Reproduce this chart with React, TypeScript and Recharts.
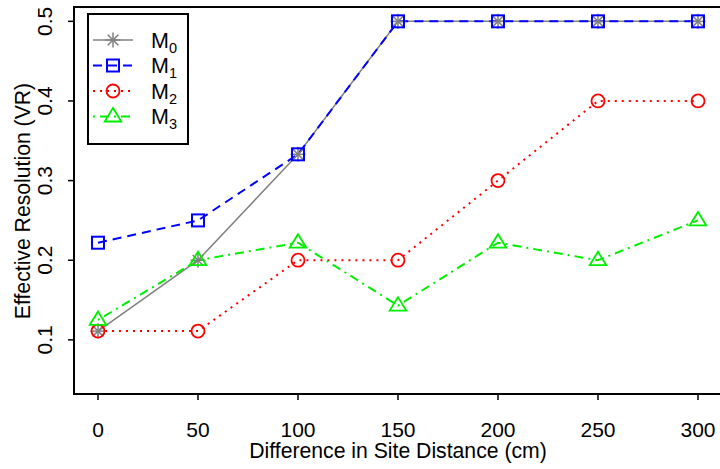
import { LineChart, Line, XAxis, YAxis, ReferenceArea, Legend } from 'recharts';

const distances = [0, 50, 100, 150, 200, 250, 300];
const m0 = [0.111, 0.2, 0.333, 0.5, 0.5, 0.5, 0.5];
const m1 = [0.222, 0.25, 0.333, 0.5, 0.5, 0.5, 0.5];
const m2 = [0.111, 0.111, 0.2, 0.2, 0.3, 0.4, 0.4];
const m3 = [0.125, 0.2, 0.222, 0.143, 0.222, 0.2, 0.25];
const xTicks = [0, 50, 100, 150, 200, 250, 300];
const yTicks = [0.1, 0.2, 0.3, 0.4, 0.5];

const FONT = '"Liberation Sans", Arial, sans-serif';

const data = distances.map((d, i) => ({ d, m0: m0[i], m1: m1[i], m2: m2[i], m3: m3[i] }));

type Shape = 'star' | 'square' | 'circle' | 'triangle';

const series: { key: string; sub: string; color: string; dash?: string; width: number; shape: Shape }[] = [
    { key: 'm0', sub: '0', color: '#808080', width: 1.5, shape: 'star' },
    { key: 'm1', sub: '1', color: '#0000ff', dash: '9 6', width: 2, shape: 'square' },
    { key: 'm2', sub: '2', color: '#ff0000', dash: '2 5', width: 2, shape: 'circle' },
    { key: 'm3', sub: '3', color: '#00ee00', dash: '2 5 9 5', width: 2, shape: 'triangle' },
];

function Marker({ cx, cy, shape, color }: { cx: number; cy: number; shape: Shape; color: string }) {
    if (shape === 'star') {
        const r = 7.5;
        const d = 5.3;
        return (
            <g stroke={color} strokeWidth={1.5}>
                <line x1={cx - r} y1={cy} x2={cx + r} y2={cy} />
                <line x1={cx} y1={cy - r} x2={cx} y2={cy + r} />
                <line x1={cx - d} y1={cy - d} x2={cx + d} y2={cy + d} />
                <line x1={cx - d} y1={cy + d} x2={cx + d} y2={cy - d} />
            </g>
        );
    }
    if (shape === 'square') {
        return <rect x={cx - 6} y={cy - 6} width={12} height={12} fill="none" stroke={color} strokeWidth={2} />;
    }
    if (shape === 'circle') {
        return <circle cx={cx} cy={cy} r={6.5} fill="none" stroke={color} strokeWidth={1.8} />;
    }
    return (
        <polygon
            points={`${cx},${cy - 8.5} ${cx + 8.3},${cy + 5} ${cx - 8.3},${cy + 5}`}
            fill="none"
            stroke={color}
            strokeWidth={1.8}
        />
    );
}

function LegendBox() {
    const rows = [27, 52.5, 78, 103.5];
    return (
        <svg width={102} height={132} style={{ display: 'block' }}>
            <rect x={1} y={1} width={100} height={130} fill="#fff" stroke="#000" strokeWidth={2} />
            {series.map((s, i) => (
                <g key={s.key}>
                    <line x1={6} y1={rows[i]} x2={46} y2={rows[i]} stroke={s.color} strokeWidth={s.width} strokeDasharray={s.dash} />
                    <Marker cx={26} cy={rows[i]} shape={s.shape} color={s.color} />
                    <text x={64} y={rows[i] + 7.5} fontFamily={FONT} fontSize={21.5} fill="#000">
                        M<tspan fontSize={14.5} dy={5}>{s.sub}</tspan>
                    </text>
                </g>
            ))}
        </svg>
    );
}

function XTick({ x, payload }: any) {
    return (
        <text x={x} y={437} textAnchor="middle" fontFamily={FONT} fontSize={21} fill="#000">
            {payload.value}
        </text>
    );
}

function YTick({ y, payload }: any) {
    return (
        <text transform={`translate(52, ${y}) rotate(-90)`} textAnchor="middle" fontFamily={FONT} fontSize={21} fill="#000">
            {payload.value.toFixed(1)}
        </text>
    );
}

export default function App() {
    return (
        <div style={{ position: 'absolute', left: 0, top: 0, width: 720, height: 469, overflow: 'hidden', background: '#fff' }}>
            <LineChart width={722} height={469} data={data} margin={{ top: 7, right: 0, bottom: 0, left: 0 }}>
                <XAxis
                    dataKey="d"
                    type="number"
                    domain={[-12, 312]}
                    ticks={xTicks}
                    axisLine={false}
                    tickLine={{ stroke: '#000', strokeWidth: 1.5 }}
                    tickSize={6}
                    height={75}
                    tick={<XTick />}
                    interval={0}
                />
                <YAxis
                    type="number"
                    domain={[0.032, 0.518]}
                    ticks={yTicks}
                    axisLine={false}
                    tickLine={{ stroke: '#000', strokeWidth: 1.5 }}
                    tickSize={6}
                    width={74}
                    tick={<YTick />}
                    interval={0}
                />
                <ReferenceArea x1={-12} x2={312} y1={0.032} y2={0.518} fill="none" stroke="#000" strokeWidth={2} />
                {series.map((s) => (
                    <Line
                        key={s.key}
                        dataKey={s.key}
                        type="linear"
                        stroke={s.color}
                        strokeWidth={s.width}
                        strokeDasharray={s.dash}
                        isAnimationActive={false}
                        dot={(p: any) => <Marker key={`${s.key}-${p.index}`} cx={p.cx} cy={p.cy} shape={s.shape} color={s.color} />}
                        activeDot={false}
                    />
                ))}
                <Legend
                    layout="horizontal"
                    align="center"
                    verticalAlign="middle"
                    content={() => <LegendBox />}
                    wrapperStyle={{ left: 87, top: 13, width: 102, height: 132 }}
                />
                <text x={398} y={458} textAnchor="middle" fontFamily={FONT} fontSize={21.2} fill="#000">
                    Difference in Site Distance (cm)
                </text>
                <text transform="translate(30, 201) rotate(-90)" textAnchor="middle" fontFamily={FONT} fontSize={21.2} fill="#000">
                    Effective Resolution (VR)
                </text>
            </LineChart>
        </div>
    );
}
